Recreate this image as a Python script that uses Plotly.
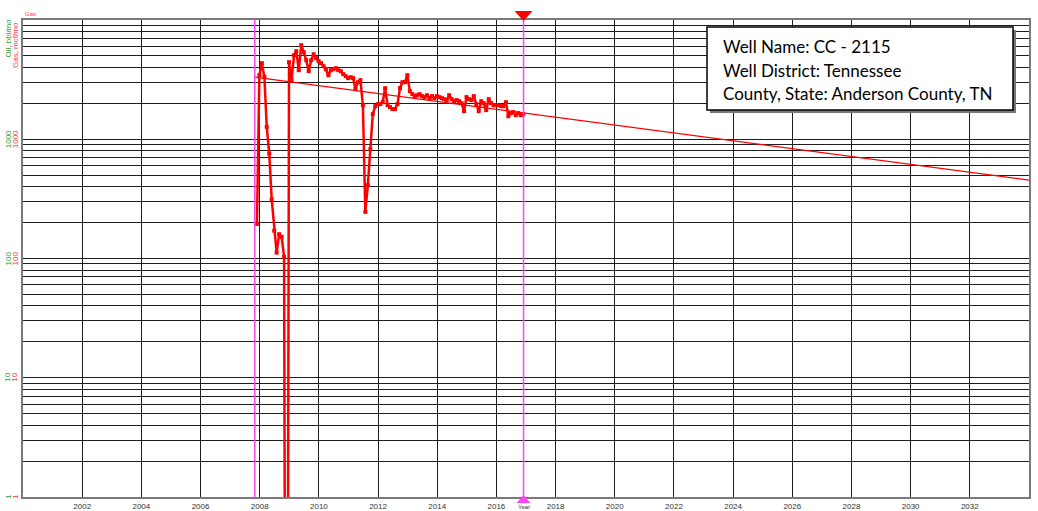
import math
import plotly.graph_objects as go

# ---------------- data ----------------
START_YEAR, START_MONTH = 2007, 11
GAS_MCF = [
    195, 3445, 4345, 3340, 1270, 760, 313, 171, 112, 160, 152, 103, 0,      # Nov07 - Nov08
    4430, 3130, 5070, 5475, 3795, 6150, 5370, 4605, 3725, 4605, 5165, 4785, 4520,  # Dec08 - Dec09
    4345, 4100, 3870, 3445, 3795, 3870, 3945, 3795, 3725, 3515, 3380, 3255,  # 2010
    3315, 3255, 2630, 3010, 3130, 1930, 246, 412, 826, 1625, 1895, 1970,     # 2011
    1970, 2045, 2680, 1930, 1860, 1790, 1790, 1970, 2680, 3010, 3010, 3445,  # 2012
    2530, 2390, 2300, 2340, 2390, 2300, 2255, 2340, 2210, 2300, 2210, 2300,  # 2013
    2255, 2210, 2170, 2130, 2340, 2170, 2085, 2130, 2085, 2010, 1720, 2255,  # 2014
    2170, 2130, 2300, 1970, 1720, 2085, 2010, 1755, 2170, 2010, 1930, 1930,  # 2015
    1930, 1895, 1895, 2045, 1560, 1655, 1690, 1590, 1655, 1590, 1625,        # 2016
]
DECLINE_DATES = ["2007-11-01", "2034-01-01"]
DECLINE_RATES = [3316, 454]
MARKER_LINES = ["2007-11-01", "2016-12-01"]
FORECAST_START = "2016-12-01"
YEAR_TICKS = list(range(2002, 2033, 2))
Y_LABELS = [1, 10, 100, 1000]
WELL_INFO = ["Well Name: CC - 2115", "Well District: Tennessee",
             "County, State: Anderson County, TN"]

# ---------------- build ----------------
dates = []
y, m = START_YEAR, START_MONTH
for _ in GAS_MCF:
    dates.append(f"{y}-{m:02d}-28")
    m += 1
    if m > 12:
        m = 1
        y += 1
ZERO_FLOOR = 1e-6
gas_plot = [v if v > 0 else ZERO_FLOOR for v in GAS_MCF]

RED = "#ff0000"
GREEN = "#2e9e2e"
LRED = "#ff3a3a"
MAG = "#ff44ff"
GRID = "#1e1e1e"

fig = go.Figure()
fig.add_trace(go.Scatter(x=DECLINE_DATES, y=DECLINE_RATES, mode="lines",
                         line=dict(color=RED, width=1.3), hoverinfo="skip"))
fig.add_trace(go.Scatter(x=dates, y=gas_plot, mode="lines+markers",
                         line=dict(color=RED, width=2.5),
                         marker=dict(symbol="square", size=4, color=RED)))

for d in MARKER_LINES:
    fig.add_shape(type="line", xref="x", yref="paper", x0=d, x1=d, y0=0, y1=1,
                  line=dict(color=MAG, width=1.5), layer="above")

# forecast-start triangles (pixel-sized, anchored at the forecast date)
fig.add_shape(type="path", xref="x", yref="paper", xsizemode="pixel", ysizemode="pixel",
              xanchor=FORECAST_START, yanchor=1, path="M -9,9 L 9,9 L 0,-1 Z",
              fillcolor=RED, line=dict(width=0), layer="above")
fig.add_shape(type="path", xref="x", yref="paper", xsizemode="pixel", ysizemode="pixel",
              xanchor=FORECAST_START, yanchor=0, path="M -7,-6 L 7,-6 L 0,2 Z",
              fillcolor=MAG, line=dict(width=0), layer="above")

ytick = []
for dec in [1, 10, 100, 1000]:
    ytick += [dec * k for k in range(1, 10)]
ytick.append(10000)

fig.update_layout(
    width=1038, height=511,
    margin=dict(l=23, r=9, t=20, b=14, autoexpand=False),
    paper_bgcolor="white", plot_bgcolor="white",
    showlegend=False,
    xaxis=dict(type="date", range=["2000-01-01", "2034-01-01"], automargin=False,
               tickvals=[f"{yr}-01-01" for yr in YEAR_TICKS],
               ticktext=[str(yr) for yr in YEAR_TICKS],
               showgrid=True, gridcolor=GRID, gridwidth=1,
               showline=True, linecolor="#7a7a7a", linewidth=2, mirror=True,
               ticks="", tickfont=dict(family="Liberation Sans", size=8, color="#333333"),
               zeroline=False),
    yaxis=dict(type="log", range=[0, 4], tickvals=ytick, showticklabels=False,
               automargin=False,
               showgrid=True, gridcolor=GRID, gridwidth=1,
               showline=True, linecolor="#7a7a7a", linewidth=2, mirror=True,
               ticks="", zeroline=False),
)

# y tick labels (oil green, gas red)
for v in Y_LABELS:
    lv = math.log10(v)
    for col, sh in ((GREEN, -15), (LRED, -8)):
        fig.add_annotation(x=0, xref="paper", y=lv, yref="y", text=str(v),
                           textangle=-90, showarrow=False, xanchor="center",
                           yanchor="middle", xshift=sh,
                           font=dict(family="Liberation Sans", size=8, color=col))
fig.add_annotation(x=0, xref="paper", y=4, yref="y", text="Oil, bbl/mo", textangle=-90,
                   showarrow=False, xanchor="center", yanchor="top", xshift=-15, yshift=3,
                   font=dict(family="Liberation Sans", size=8, color=GREEN))
fig.add_annotation(x=0, xref="paper", y=4, yref="y", text="Gas, mcf/mo", textangle=-90,
                   showarrow=False, xanchor="center", yanchor="top", xshift=-8, yshift=0,
                   font=dict(family="Liberation Sans", size=8, color=LRED))
fig.add_annotation(x=0, xref="paper", y=1, yref="paper", text="Gas", showarrow=False,
                   xanchor="left", yanchor="bottom", xshift=0, yshift=1,
                   font=dict(family="Liberation Sans", size=6, color=LRED))
fig.add_annotation(x=FORECAST_START, xref="x", y=0, yref="paper", text="Year",
                   showarrow=False, xanchor="center", yanchor="top", yshift=-6,
                   borderpad=0,
                   font=dict(family="Liberation Sans", size=6, color="#333333"))

# well info box
def px_x(p):
    return (p - 23) / 1006.0

def px_y(p):
    return (497 - p) / 477.0

fig.add_shape(type="rect", xref="paper", yref="paper",
              x0=px_x(710), x1=px_x(1016), y0=px_y(113), y1=px_y(30),
              fillcolor="#777777", line=dict(width=0), layer="above")
fig.add_shape(type="rect", xref="paper", yref="paper",
              x0=px_x(707), x1=px_x(1013), y0=px_y(110), y1=px_y(27),
              fillcolor="white", line=dict(color="black", width=1.5), layer="above")
for txt, py in zip(WELL_INFO, [47, 70, 93]):
    fig.add_annotation(x=px_x(721), xref="paper", y=px_y(py), yref="paper", text=txt,
                       showarrow=False, xanchor="left", yanchor="middle",
                       font=dict(family="Lato", size=17, color="black"))

fig.write_html("out.html", config={"displayModeBar": False},
               post_script="document.body.style.margin='0';")
